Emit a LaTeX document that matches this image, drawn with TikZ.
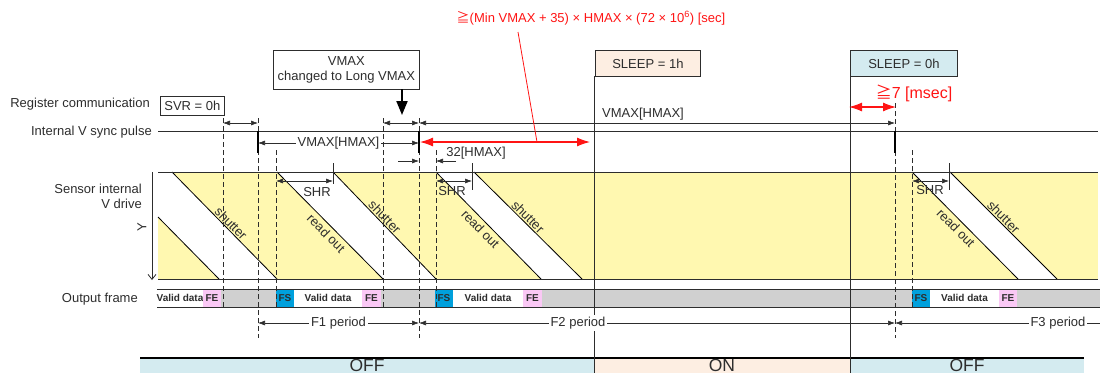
\documentclass[tikz,border=0pt]{standalone}
\usepackage{fontspec}
\setmainfont{Liberation Sans}
\newfontfamily\jpfont{Noto Sans CJK JP}
\usetikzlibrary{arrows.meta}
\definecolor{bandyellow}{RGB}{255,248,176}
\definecolor{framegray}{RGB}{208,208,208}
\definecolor{fsblue}{RGB}{0,160,220}
\definecolor{fepink}{RGB}{250,200,245}
\definecolor{onpeach}{RGB}{253,238,226}
\definecolor{offblue}{RGB}{212,235,240}
\definecolor{ink}{RGB}{45,45,45}
\definecolor{warnred}{RGB}{255,20,20}
\begin{document}
\begin{tikzpicture}[x=1pt,y=-1pt,
  txt/.style={font=\fontsize{13}{15}\selectfont, text=ink, inner sep=1pt},
  bigtxt/.style={font=\fontsize{17.5}{20}\selectfont, text=ink, inner sep=0pt},
  bandline/.style={draw=ink, line width=1pt},
  dline/.style={draw=ink, dash pattern=on 5pt off 3pt, line width=0.7pt},
  solidv/.style={draw=ink, line width=0.7pt},
  diag/.style={draw=black, line width=0.8pt},
  dim/.style={draw=ink, line width=0.6pt, {Latex[length=7pt,width=5pt]}-{Latex[length=7pt,width=5pt]}},
  onearr/.style={draw=ink, line width=0.6pt, -{Latex[length=7pt,width=5pt]}},
  rdim/.style={draw=warnred, line width=1.1pt, {Latex[length=13pt,width=9pt]}-{Latex[length=13pt,width=9pt]}},
  pulse/.style={draw=black, line width=2.4pt},
  regbox/.style={draw=ink, line width=0.8pt, font=\fontsize{13}{15}\selectfont, text=ink, inner sep=0pt, anchor=north west, align=center},
  cell/.style={font=\fontsize{10}{12}\selectfont\bfseries, text=ink, inner sep=0pt, minimum height=18pt},
  wlbl/.style={txt, fill=white, inner sep=2pt}
]
\useasboundingbox (0,0) rectangle (1100,373);

% ---------- sensor internal V drive band
\fill[bandyellow] (158,172) rectangle (1098,279);
\fill[white] (158,172) -- (172,172) -- (277,279) -- (219,279) -- (158,217) -- cycle;
\fill[white] (277,172) -- (333,172) -- (436,279) -- (383,279) -- cycle;
\fill[white] (436,172) -- (474,172) -- (582,279) -- (541,279) -- cycle;
\fill[white] (912,172) -- (950,172) -- (1057,279) -- (1018,279) -- cycle;

\coordinate (ro0a) at (158,217); \coordinate (ro0b) at (219,279);
\coordinate (sh1a) at (172,172); \coordinate (sh1b) at (277,279);
\coordinate (ro2a) at (277,172); \coordinate (ro2b) at (383,279);
\coordinate (sh2a) at (333,172); \coordinate (sh2b) at (436,279);
\coordinate (ro3a) at (436,172); \coordinate (ro3b) at (541,279);
\coordinate (sh3a) at (474,172); \coordinate (sh3b) at (582,279);
\coordinate (ro4a) at (912,172); \coordinate (ro4b) at (1018,279);
\coordinate (sh4a) at (950,172); \coordinate (sh4b) at (1057,279);

\draw[diag] (ro0a) -- (ro0b);
\draw[diag] (sh1a) -- node[txt, pos=.52, sloped, anchor=south] (tsh1) {shutter} (sh1b);
\draw[diag] (ro2a) -- node[txt, pos=.52, sloped, anchor=north, inner sep=3pt] (tro2) {read out} (ro2b);
\draw[diag] (sh2a) -- node[txt, pos=.46, sloped, anchor=south] (tsh2) {shutter} (sh2b);
\draw[diag] (ro3a) -- node[txt, pos=.48, sloped, anchor=north, inner sep=3pt] (tro3) {read out} (ro3b);
\draw[diag] (sh3a) -- node[txt, pos=.46, sloped, anchor=south] (tsh3) {shutter} (sh3b);
\draw[diag] (ro4a) -- node[txt, pos=.47, sloped, anchor=north, inner sep=3pt] (tro4) {read out} (ro4b);
\draw[diag] (sh4a) -- node[txt, pos=.46, sloped, anchor=south] (tsh4) {shutter} (sh4b);

\draw[bandline] (158,172) -- (1098,172);
\draw[bandline] (158,279) -- (1098,279);

% ---------- internal V sync line
\draw[bandline] (158,131) -- (1098,131);

% ---------- output frame band
\fill[framegray] (157,289) rectangle (1100,307);
\node[cell, fill=white, minimum width=46pt] (vd0) at (180,298) {Valid data};
\node[cell, fill=fepink, minimum width=18pt] (fe0) at (212,298) {FE};
\node[cell, fill=fsblue, minimum width=18pt] (fs1) at (285,298) {FS};
\node[cell, fill=white, minimum width=68pt] (vd1) at (328,298) {Valid data};
\node[cell, fill=fepink, minimum width=19pt] (fe1) at (371.5,298) {FE};
\node[cell, fill=fsblue, minimum width=18pt] (fs2) at (444,298) {FS};
\node[cell, fill=white, minimum width=70pt] (vd2) at (488,298) {Valid data};
\node[cell, fill=fepink, minimum width=19pt] (fe2) at (532.5,298) {FE};
\node[cell, fill=fsblue, minimum width=18pt] (fs3) at (921,298) {FS};
\node[cell, fill=white, minimum width=69pt] (vd3) at (964.5,298) {Valid data};
\node[cell, fill=fepink, minimum width=18pt] (fe3) at (1008,298) {FE};
\draw[bandline] (157,289) -- (1100,289);
\draw[bandline] (157,307) -- (1100,307);

% ---------- left labels
\node[txt, anchor=east] (lreg) at (151,104) {Register communication};
\node[txt, anchor=east] (lsync) at (153,132) {Internal V sync pulse};
\node[txt, anchor=east, align=right] (lsens) at (143,196) {Sensor internal\\V drive};
\node[txt, rotate=90] (ly) at (142,227) {Y};
\coordinate (yt) at (152,172); \coordinate (yb) at (152,280);
\draw[draw=ink, line width=0.8pt, -{Straight Barb[length=5pt,width=8pt]}] (yt) -- (yb);
\node[txt, anchor=east] (lout) at (139,299) {Output frame};

% ---------- boxes
\node[regbox, minimum width=64pt, minimum height=19pt] (svr) at (160,96) {SVR = 0h};
\node[regbox, minimum width=146pt, minimum height=39pt] (vbox) at (273,50) {VMAX\\changed to Long VMAX};
\node[regbox, fill=onpeach, minimum width=105pt, minimum height=26pt] (sl1) at (595,50) {SLEEP = 1h};
\node[regbox, fill=offblue, minimum width=107pt, minimum height=26pt] (sl0) at (850,50) {SLEEP = 0h};

\coordinate (va) at (402,89); \coordinate (vb) at (402,115);
\draw[black, line width=2pt, -{Triangle[length=14pt,width=11pt]}] (va) -- (vb);

% ---------- ON/OFF bars
\fill[offblue] (140,358) rectangle (594,373);
\fill[onpeach] (594,358) rectangle (850,373);
\fill[offblue] (850,358) rectangle (1084,373);
\draw[black, line width=1.6pt] (140,358) -- (1084,358);
\node[bigtxt] (off1) at (367,365) {OFF};
\node[bigtxt] (on1) at (722,365) {ON};
\node[bigtxt] (off2) at (967,365) {OFF};

% ---------- solid verticals from SLEEP boxes
\coordinate (s1t) at (594,76); \coordinate (s1b) at (594,373);
\coordinate (s0t) at (850,76); \coordinate (s0b) at (850,373);
\draw[solidv] (s1t) -- (s1b);
\draw[solidv] (s0t) -- (s0b);

% ---------- dashed verticals
\draw[dline] (223,118) -- (223,307);
\draw[dline] (258,118) -- (258,338);
\draw[dline] (276,150) -- (276,307);
\draw[dline] (383,118) -- (383,307);
\draw[dline] (419,118) -- (419,338);
\draw[dline] (436,150) -- (436,307);
\draw[dline] (895,103) -- (895,338);
\draw[dline] (912,150) -- (912,307);

% ---------- sync pulses
\draw[pulse] (258,131) -- (258,153);
\draw[pulse] (419,131) -- (419,153);
\draw[pulse] (895,131) -- (895,153);

% ---------- register communication arrows
\coordinate (r1a) at (223,123); \coordinate (r1b) at (258,123);
\coordinate (r2a) at (383,123); \coordinate (r2b) at (419,123);
\coordinate (r3b) at (895,123);
\draw[dim] (r1a) -- (r1b);
\draw[dim] (r2a) -- (r2b);
\draw[dim] (r2b) -- (r3b);
\node[txt, anchor=south] (vmh2) at (643,121) {VMAX[HMAX]};

% ---------- VMAX[HMAX] between pulses
\coordinate (p1) at (258,143); \coordinate (p2) at (419,143);
\draw[dim] (p1) -- node[wlbl] (vmh1) {VMAX[HMAX]} (p2);

% ---------- red constraint
\coordinate (rda) at (420,142); \coordinate (rdb) at (590,142);
\draw[rdim] (rda) -- (rdb);
\node[txt, text=warnred, inner sep=0pt] (rtxt) at (591,18) {{\jpfont ≧}(Min VMAX + 35) × HMAX × (72 × 10\textsuperscript{6}) [sec]};
\coordinate (rl1) at (518,32); \coordinate (rl2) at (537,142);
\draw[warnred, line width=0.8pt] (rl1) -- (rl2);

\coordinate (r7a) at (849,107); \coordinate (r7b) at (896,107);
\draw[rdim] (r7a) -- (r7b);
\node[font=\fontsize{16}{18}\selectfont, text=warnred, inner sep=0pt] (r7) at (914,93) {{\jpfont ≧}7 [msec]};

% ---------- 32[HMAX]
\coordinate (h1a) at (398,161); \coordinate (h1b) at (419,161);
\coordinate (h2a) at (456,161); \coordinate (h2b) at (436,161);
\draw[onearr] (h1a) -- (h1b);
\draw[onearr] (h2a) -- (h2b);
\node[txt] (h32) at (476,153) {32[HMAX]};

% ---------- SHR
\coordinate (shr1a) at (276,181); \coordinate (shr1b) at (333,181);
\coordinate (shr2a) at (436,181); \coordinate (shr2b) at (472,181);
\coordinate (shr3a) at (912,181); \coordinate (shr3b) at (949,181);
\draw[dim] (shr1a) -- (shr1b);
\draw[dim] (shr2a) -- (shr2b);
\draw[dim] (shr3a) -- (shr3b);
\draw[solidv] (333,163) -- (333,184);
\draw[solidv] (472,163) -- (472,190);
\draw[solidv] (949,163) -- (949,190);
\node[txt] (tshr1) at (317,192) {SHR};
\node[txt] (tshr2) at (452,191) {SHR};
\node[txt] (tshr3) at (930,190) {SHR};

% ---------- frame periods
\coordinate (f1a) at (258,323); \coordinate (f1b) at (419,323);
\coordinate (f2b) at (895,323); \coordinate (f3b) at (1100,323);
\draw[dim] (f1a) -- node[wlbl] (tf1) {F1 period} (f1b);
\draw[dim] (f1b) -- (f2b);
\node[wlbl] (tf2) at (578,323) {F2 period};
\draw[draw=ink, line width=0.6pt, {Latex[length=7pt,width=5pt]}-] (f2b) -- (f3b);
\node[wlbl] (tf3) at (1058,323) {F3 period};
\end{tikzpicture}
\end{document}
